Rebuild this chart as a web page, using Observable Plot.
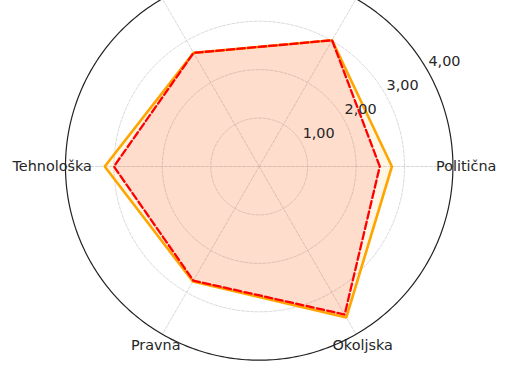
<!DOCTYPE html>
<html>
<head>
<meta charset="utf-8">
<script src="https://cdn.jsdelivr.net/npm/d3@7"></script>
<script src="https://cdn.jsdelivr.net/npm/@observablehq/plot@0.6"></script>
<style>
  html, body { margin: 0; padding: 0; background: #fff; }
  #chart svg { display: block; }
</style>
</head>
<body>
<div id="chart"></div>
<script>
// ---- data ----
const categories = ["Politična", "Ekonomska", "Socialna", "Tehnološka", "Pravna", "Okoljska"];
const seriesOrange = [2.74, 3.01, 2.71, 3.19, 2.74, 3.6];
const seriesRed = [2.49, 3.01, 2.71, 3.0, 2.72, 3.53];
const radialTicks = [1, 2, 3, 4];
const radialTickLabels = ["1,00", "2,00", "3,00", "4,00"];
const rMax = 4;

// ---- layout ----
const W = 510, H = 383;
const cx = 258.7, cy = 166, unit = 48.43;

const ang = i => (i * 2 * Math.PI) / categories.length;
const polar = (r, a) => ({x: r * Math.cos(a), y: r * Math.sin(a)});

function polygon(values) {
  const pts = values.map((v, i) => polar(v, ang(i)));
  pts.push(pts[0]);
  return pts;
}
function circle(r) {
  return d3.range(0, 361).map(d => polar(r, (d * Math.PI) / 180));
}

const gridCircles = radialTicks.filter(t => t < rMax).flatMap(t => circle(t).map(p => ({...p, t})));
const outer = circle(rMax);
const spokes = categories.flatMap((c, i) => [ {...polar(0, ang(i)), c}, {...polar(rMax, ang(i)), c} ]);
const labelPts = categories.map((c, i) => ({...polar(207 / unit, ang(i)), c}));
const tickPts = radialTicks.map((t, i) => ({...polar(t, Math.PI / 6), label: radialTickLabels[i]}));

const font = "DejaVu Sans, sans-serif";

const chart = Plot.plot({
  width: W,
  height: H,
  margin: 0,
  x: {domain: [-cx / unit, (W - cx) / unit], axis: null},
  y: {domain: [-(H - cy) / unit, cy / unit], axis: null},
  style: {background: "#fff", fontFamily: font},
  marks: [
    Plot.line(gridCircles, {x: "x", y: "y", z: "t", stroke: "#cfcfcf", strokeWidth: 0.8, strokeDasharray: "3,1.6"}),
    Plot.line(spokes, {x: "x", y: "y", z: "c", stroke: "#cfcfcf", strokeWidth: 0.8, strokeDasharray: "3,1.6"}),
    Plot.line(polygon(seriesOrange), {x: "x", y: "y", fill: "orange", fillOpacity: 0.1, stroke: "orange", strokeWidth: 2.6, strokeLinejoin: "miter"}),
    Plot.line(polygon(seriesRed), {x: "x", y: "y", fill: "red", fillOpacity: 0.1, stroke: "red", strokeWidth: 2.3, strokeDasharray: "7.4,3.2", strokeLinejoin: "miter"}),
    Plot.line(outer, {x: "x", y: "y", stroke: "#222", strokeWidth: 1.2}),
    Plot.text(tickPts, {x: "x", y: "y", text: "label", dx: 17.5, dy: -8.5, fontSize: 14.4, fill: "#262626", textAnchor: "middle"}),
    Plot.text(labelPts, {x: "x", y: "y", text: "c", fontSize: 14.4, fill: "#262626", textAnchor: "middle"})
  ]
});
document.getElementById("chart").appendChild(chart);
</script>
</body>
</html>
